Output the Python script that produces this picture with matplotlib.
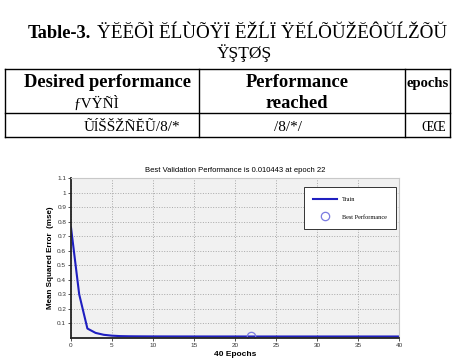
import matplotlib.pyplot as plt
from matplotlib.lines import Line2D

# text of the (badly encoded) table above the plot
table_title = "Table-3."
title_tail = "ŸĔĔÕÌ ĔĹÙÕŸÏ ĔŽĹÏ ŸĔĹÕŬŽĔÔŬĹŽÕŬ"
title_line2 = "ŸŞŢØŞ"
header_1 = ["Desired performance", "ƒVŸÑÌ"]
header_2 = ["Performance", "reached"]
header_3 = ["epochs"]
row_values = ["ŨĺŠŠŽÑĔŨ/8/*", "/8/*/", "ŒŒ"]

# training record
epochs = list(range(41))
train_mse = [0.76, 0.30, 0.065, 0.035, 0.022, 0.016, 0.013, 0.012, 0.0115, 0.0112,
             0.011, 0.0109, 0.0108, 0.0107, 0.0107, 0.0106, 0.0106, 0.0105, 0.0105,
             0.0105, 0.0105, 0.0104, 0.0104, 0.0104, 0.0104, 0.0104, 0.0104, 0.0104,
             0.0104, 0.0104, 0.0104, 0.0104, 0.0104, 0.0104, 0.0104, 0.0104, 0.0104,
             0.0104, 0.0104, 0.0104, 0.0104]
best_epoch = 22
best_perf = 0.010443

W, H = 456, 364
fig = plt.figure(figsize=(W / 100, H / 100), dpi=100)


def fx(px):
    return px / W


def fy(py):
    return 1 - py / H


serif = ['Liberation Serif', 'DejaVu Serif']
tfont = dict(family=serif, fontweight='bold', fontsize=13.3)
gfont = dict(family=serif, fontsize=13.8)

# title
fig.text(fx(28), fy(38), table_title, ha='left', va='baseline', **tfont)
fig.text(fx(97), fy(38), title_tail, ha='left', va='baseline', **gfont)
fig.text(fx(244), fy(58), title_line2, ha='center', va='baseline',
         family=serif, fontsize=12.5)

# table grid
for y in [69, 113, 137]:
    fig.add_artist(Line2D([fx(5), fx(450)], [fy(y), fy(y)], color='black', lw=1))
for x in [5, 199, 405, 450]:
    fig.add_artist(Line2D([fx(x), fx(x)], [fy(69), fy(137)], color='black', lw=1))

fig.text(fx(108), fy(87), header_1[0], ha='center', va='baseline', **tfont)
fig.text(fx(96), fy(108), header_1[1], ha='center', va='baseline',
         family=serif, fontsize=11)
fig.text(fx(297), fy(87), header_2[0], ha='center', va='baseline', **tfont)
fig.text(fx(297), fy(108), header_2[1], ha='center', va='baseline', **tfont)
fig.text(fx(428), fy(87), header_3[0], ha='center', va='baseline',
         family=serif, fontweight='bold', fontsize=10.5)
fig.text(fx(132), fy(131), row_values[0], ha='center', va='baseline',
         family=serif, fontsize=11)
fig.text(fx(288), fy(131), row_values[1], ha='center', va='baseline',
         family=serif, fontsize=11)
fig.text(fx(434), fy(131), row_values[2], ha='center', va='baseline',
         family=serif, fontsize=10)

# training performance plot
sans = ['Liberation Sans', 'DejaVu Sans']
ax = fig.add_axes([fx(71), fy(338), (399 - 71) / W, (338 - 178) / H])
ax.set_facecolor('#f1f1f1')
ax.plot(epochs, train_mse, color='#1f1fc0', lw=1.5, label='Train')
ax.plot([best_epoch], [best_perf], 'o', mfc='none', mec='#7b7be0', ms=6,
        mew=0.9, label='Best Performance')
ax.set_xlim(0, 40)
ax.set_ylim(0, 1.1)
ax.set_xticks(range(0, 41, 5))
ax.set_yticks([0.1 * i for i in range(1, 12)])
ax.set_yticklabels(['0.1', '0.2', '0.3', '0.4', '0.5', '0.6', '0.7', '0.8',
                    '0.9', '1', '1.1'])
ax.tick_params(labelsize=4.6, length=2, width=0.6, colors='#333333', pad=1.5)
for lab in ax.get_xticklabels() + ax.get_yticklabels():
    lab.set_family(sans)
ax.grid(True, ls=':', color='#a8a8a8', lw=0.7)
ax.set_axisbelow(True)
for s in ['top', 'right']:
    ax.spines[s].set_color('#c8c8c8')
    ax.spines[s].set_linewidth(0.8)
for s in ['left', 'bottom']:
    ax.spines[s].set_color('#222222')
    ax.spines[s].set_linewidth(1.3)

ax.set_title('Best Validation Performance is 0.010443 at epoch 22',
             fontsize=5.5, family=sans, pad=4)
ax.set_xlabel('40 Epochs', fontsize=6, fontweight='bold', family=sans, labelpad=2)
ax.set_ylabel('Mean Squared Error  (mse)', fontsize=5.8, fontweight='bold',
              family=sans, labelpad=2)

leg = ax.legend(loc='upper right', bbox_to_anchor=(fx(396), fy(187)),
                bbox_transform=fig.transFigure, borderaxespad=0,
                prop={'family': serif, 'size': 4.5}, handlelength=3.8,
                borderpad=1.5, labelspacing=2.0, fancybox=False,
                edgecolor='#333333', framealpha=1)
leg.get_frame().set_linewidth(0.7)

fig.savefig('out.png', dpi=100)
